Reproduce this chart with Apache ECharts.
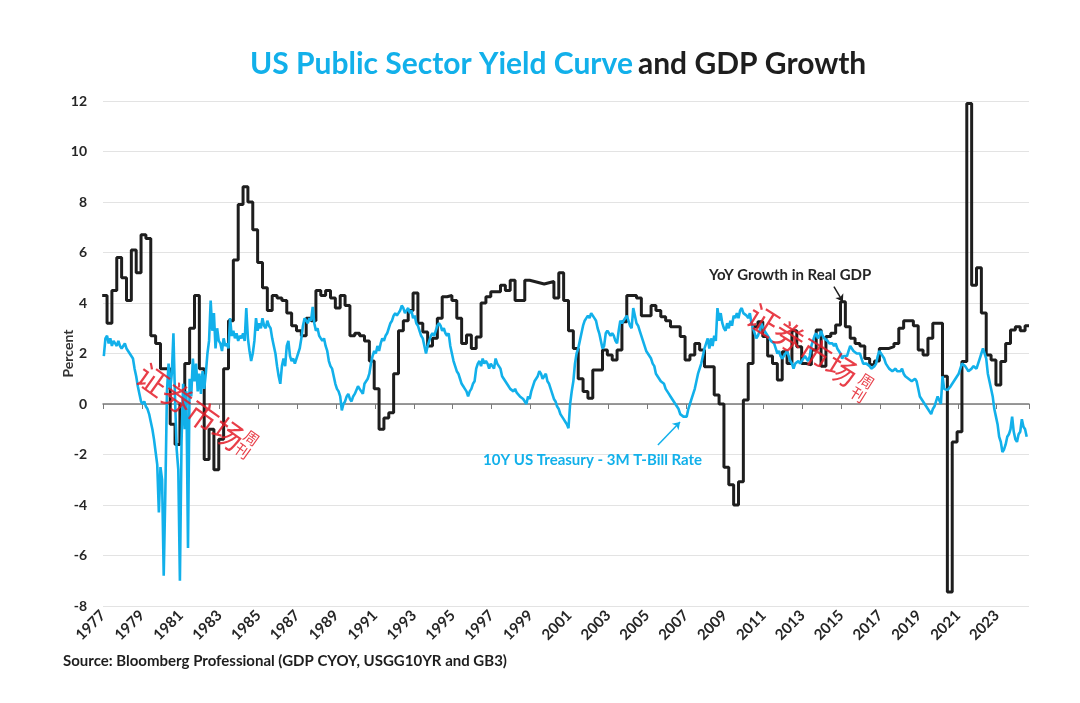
<!DOCTYPE html>
<html>
<head>
<meta charset="utf-8">
<script src="https://cdn.jsdelivr.net/npm/echarts@6/dist/echarts.min.js"></script>
<style>
html,body{margin:0;padding:0;background:#fff;}
#chart{width:1080px;height:703px;}
</style>
</head>
<body>
<div id="chart"></div>
<script>
// ---------------- DATA ----------------
const titleBlue = 'US Public Sector Yield Curve';
const titleDark = 'and GDP Growth';
const yAxisName = 'Percent';
const sourceText = 'Source: Bloomberg Professional (GDP CYOY, USGG10YR and GB3)';
const gdpLabel = 'YoY Growth in Real GDP';
const spreadLabel = '10Y US Treasury - 3M T-Bill Rate';

const xMinYear = 1977;
const xMaxYear = 2024.66;
const xTickStep = 2;
const yMin = -8, yMax = 12, yStep = 2;

// 10Y - 3M spread, monthly, starting Jan 1977 (one row per year)
const spreadStartYear = 1977;
const spreadMonthly = [
  1.9, 2.6, 2.7, 2.4, 2.6, 2.3, 2.5, 2.4, 2.3, 2.5, 2.3, 2.2,      // 1977
  2.3, 2.4, 2.2, 2.1, 2.0, 1.9, 1.8, 1.4, 1.1, 0.7, 0.4, 0.1,      // 1978
  0.0, 0.1, -0.1, -0.2, -0.4, -0.7, -1.0, -1.4, -1.9, -2.4, -4.3, -2.5, // 1979
  -3.0, -6.8, -3.5, 0.5, 1.6, 0.6, 1.2, 2.8, 0.2, -1.8, -2.6, -7.0, // 1980
  -1.5, 0.8, -1.0, 0.5, -5.7, 1.0, 0.3, 1.8, 0.9, 1.6, 0.5, 1.2,   // 1981
  0.4, 1.3, 0.6, 1.2, 2.0, 2.5, 4.1, 2.9, 3.6, 2.2, 3.0, 2.5,      // 1982
  2.4, 2.1, 2.6, 2.3, 2.4, 2.2, 3.4, 2.7, 2.9, 2.6, 2.8, 2.5,      // 1983
  2.7, 2.6, 2.8, 2.5, 3.8, 2.6, 2.1, 1.7, 2.0, 2.5, 3.4, 2.9,      // 1984
  3.2, 3.0, 3.4, 3.1, 3.0, 3.3, 3.1, 3.0, 2.6, 2.3, 2.0, 1.5,      // 1985
  1.1, 0.8, 1.5, 1.8, 1.5, 2.3, 2.5, 1.9, 1.7, 1.8, 1.6, 1.8,      // 1986
  2.0, 2.2, 2.6, 3.1, 3.4, 3.3, 3.2, 3.4, 3.3, 3.85, 3.2, 2.9,     // 1987
  3.0, 2.7, 2.6, 2.5, 2.6, 2.3, 2.1, 1.7, 1.5, 1.4, 1.1, 0.8,      // 1988
  0.6, 0.5, 0.3, -0.25, 0.0, 0.1, 0.3, 0.4, 0.2, 0.1, 0.3, 0.4,    // 1989
  0.4, 0.7, 0.6, 0.5, 0.4, 0.8, 0.9, 1.0, 1.2, 1.6, 1.9, 2.1,      // 1990
  2.0, 2.3, 2.1, 2.4, 2.6, 2.5, 2.7, 2.8, 3.0, 3.2, 3.3, 3.5,      // 1991
  3.6, 3.5, 3.6, 3.7, 3.9, 3.8, 3.6, 3.7, 3.8, 3.6, 3.7, 3.4,      // 1992
  3.5, 3.2, 3.1, 2.9, 2.7, 2.6, 2.3, 2.0, 2.3, 2.5, 2.7, 2.8,      // 1993
  2.7, 2.9, 3.1, 3.2, 3.1, 2.9, 3.0, 2.8, 2.7, 2.8, 2.3, 2.0,      // 1994
  1.7, 1.5, 1.3, 1.2, 1.0, 0.8, 0.7, 0.6, 0.5, 0.3, 0.5, 0.6,      // 1995
  0.8, 0.9, 1.4, 1.6, 1.7, 1.5, 1.8, 1.6, 1.7, 1.6, 1.4, 1.6,      // 1996
  1.5, 1.4, 1.8, 1.6, 1.5, 1.4, 1.1, 1.0, 0.9, 0.8, 0.7, 0.6,      // 1997
  0.6, 0.5, 0.6, 0.45, 0.5, 0.3, 0.35, 0.2, 0.1, 0.0, 0.3, 0.2,    // 1998
  0.5, 0.7, 0.9, 1.0, 1.1, 1.3, 1.2, 1.0, 1.1, 1.2, 0.9, 0.8,      // 1999
  0.6, 0.4, 0.2, 0.1, -0.1, -0.2, -0.4, -0.5, -0.6, -0.7, -0.8, -0.96, // 2000
  0.0, 0.5, 0.9, 1.6, 2.0, 2.2, 2.5, 2.8, 3.1, 3.3, 3.4, 3.5,      // 2001
  3.4, 3.6, 3.5, 3.4, 3.3, 3.0, 2.8, 2.5, 2.2, 2.3, 2.8, 2.9,      // 2002
  2.9, 2.7, 2.8, 2.7, 2.5, 2.4, 2.9, 3.3, 3.2, 3.3, 3.4, 3.5,      // 2003
  3.3, 3.1, 3.0, 3.8, 3.5, 3.2, 3.1, 2.9, 2.7, 2.5, 2.3, 2.1,      // 2004
  2.0, 1.9, 1.8, 1.6, 1.5, 1.2, 1.2, 1.0, 0.9, 0.9, 0.8, 0.6,      // 2005
  0.5, 0.4, 0.3, 0.3, 0.1, 0.0, -0.1, -0.2, -0.4, -0.4, -0.5, -0.45, // 2006
  -0.5, -0.2, 0.0, 0.2, 0.4, 0.6, 0.9, 1.2, 1.4, 1.6, 1.9, 2.2,    // 2007
  2.4, 2.6, 2.2, 2.6, 2.3, 2.7, 2.5, 3.8, 3.3, 3.6, 3.2, 3.0,      // 2008
  2.9, 3.2, 3.0, 3.3, 3.1, 3.5, 3.4, 3.6, 3.4, 3.7, 3.8, 3.6,      // 2009
  3.6, 3.5, 3.4, 3.6, 3.2, 3.0, 2.8, 2.6, 2.7, 2.9, 3.2, 3.2,      // 2010
  2.9, 2.8, 2.7, 2.6, 2.5, 2.5, 2.4, 2.2, 2.0, 2.1, 1.9, 1.8,      // 2011
  1.9, 1.9, 2.1, 1.9, 1.7, 1.6, 1.4, 1.6, 1.6, 1.7, 1.6, 1.7,      // 2012
  1.8, 1.9, 1.8, 1.7, 1.9, 2.3, 2.5, 2.7, 2.8, 2.6, 2.7, 2.9,      // 2013
  2.7, 2.6, 2.6, 2.5, 2.4, 2.4, 2.4, 2.3, 2.4, 2.2, 2.2, 2.0,      // 2014
  1.8, 1.9, 1.9, 1.9, 2.1, 2.3, 2.2, 2.1, 2.1, 2.0, 2.0, 2.0,      // 2015
  1.8, 1.6, 1.6, 1.6, 1.6, 1.5, 1.4, 1.4, 1.5, 1.6, 1.9, 2.1,      // 2016
  2.0, 1.9, 1.8, 1.6, 1.5, 1.4, 1.4, 1.3, 1.3, 1.4, 1.3, 1.3,      // 2017
  1.3, 1.4, 1.2, 1.1, 1.1, 1.0, 1.0, 0.9, 0.9, 1.0, 0.9, 0.6,      // 2018
  0.3, 0.3, 0.1, 0.0, -0.1, -0.2, -0.2, -0.4, -0.2, -0.1, 0.1, 0.3, // 2019
  0.3, 0.0, 1.1, 0.6, 0.6, 0.55, 0.6, 0.7, 0.8, 0.9, 1.0, 1.1,     // 2020
  1.2, 1.4, 1.6, 1.6, 1.5, 1.4, 1.3, 1.3, 1.4, 1.5, 1.5, 1.4,      // 2021
  1.6, 1.8, 2.0, 2.2, 2.26, 1.8, 1.2, 0.9, 0.6, 0.3, -0.2, -0.5,   // 2022
  -0.8, -1.3, -1.5, -1.9, -1.8, -1.6, -1.3, -1.2, -1.0, -0.5, -1.1, -1.4, // 2023
  -1.5, -1.2, -1.1, -0.6, -0.9, -1.0, -1.3                         // 2024
];

// Real GDP YoY growth, quarterly, starting 1976 Q4
const gdpStartYear = 1976, gdpStartQuarter = 4;
const gdpYoY = [
  4.3,                       // 1976 Q4
  3.2, 4.5, 5.8, 5.0,        // 1977
  4.1, 6.1, 5.2, 6.7,        // 1978
  6.55, 2.7, 2.4, 1.4,       // 1979
  1.4, -0.8, -1.6, 0.0,      // 1980
  1.6, 3.0, 4.3, 1.4,        // 1981
  -2.2, -1.0, -2.6, -1.4,    // 1982
  1.4, 3.3, 5.7, 7.9,        // 1983
  8.6, 8.0, 6.9, 5.6,        // 1984
  4.6, 3.7, 4.3, 4.2,        // 1985
  4.1, 3.6, 3.1, 2.9,        // 1986
  2.7, 3.4, 3.3, 4.5,        // 1987
  4.3, 4.5, 4.2, 3.8,        // 1988
  4.3, 3.9, 2.7, 2.8,        // 1989
  2.7, 2.5, 1.7, 0.6,        // 1990
  -1.0, -0.55, -0.35, 1.2,   // 1991
  2.9, 3.3, 3.7, 4.4,        // 1992
  3.2, 2.85, 2.3, 2.6,       // 1993
  3.4, 4.25, 4.3, 4.1,       // 1994
  3.4, 2.4, 2.73, 2.2,       // 1995
  2.65, 4.0, 4.25, 4.45,     // 1996
  4.45, 4.7, 4.5, 4.9,       // 1997
  4.1, 4.1, 4.9, 4.85,       // 1998
  4.8, 4.75, 4.8, 4.85,      // 1999
  4.2, 5.2, 4.1, 2.9,        // 2000
  2.2, 1.0, 0.5, 0.23,       // 2001
  1.35, 1.35, 2.14, 1.94,    // 2002
  1.74, 2.14, 3.26, 4.3,     // 2003
  4.3, 4.2, 3.5, 3.5,        // 2004
  3.9, 3.7, 3.46, 3.3,       // 2005
  3.06, 3.06, 2.67, 1.74,    // 2006
  1.94, 2.4, 2.14, 1.48,     // 2007
  1.48, 0.36, 0.0, -2.5,     // 2008
  -3.2, -4.0, -3.08, 0.16,   // 2009
  1.6, 3.06, 3.26, 2.67,     // 2010
  1.9, 1.6, 0.95, 2.07,      // 2011
  1.6, 2.9, 2.27, 1.6,       // 2012
  1.55, 2.14, 2.93, 1.5,     // 2013
  2.67, 2.8, 3.13, 4.05,     // 2014
  3.06, 2.6, 2.4, 2.3,       // 2015
  1.8, 1.55, 1.7, 2.2,       // 2016
  2.2, 2.27, 2.4, 3.0,       // 2017
  3.3, 3.3, 3.1, 2.14,       // 2018
  1.94, 2.6, 3.2, 3.2,       // 2019
  1.1, -7.45, -1.5, -1.1,    // 2020
  1.68, 11.9, 4.7, 5.4,      // 2021
  3.6, 1.94, 1.74, 0.75,     // 2022
  1.68, 2.4, 2.93, 3.06,     // 2023
  2.9, 3.1                   // 2024
];

// annotation anchor points (data space)
const gdpArrow = [[2014.62, 4.65], [2015.08, 4.05]];
const spreadArrow = [[2005.56, -1.62], [2006.70, -0.71]];

// ---------------- BUILD ----------------
const spreadData = spreadMonthly.map((v, i) => [spreadStartYear + (i + 0.5) / 12, v]);
const gdpData = gdpYoY.map((v, k) => {
  const qi = (gdpStartQuarter - 1) + k;
  const yr = gdpStartYear + Math.floor(qi / 4);
  const q = qi % 4;
  return [yr + (q * 3 + 2.5) / 12, v];
});
// last reading carried to the end of the plotted range
gdpData.push([xMaxYear, gdpYoY[gdpYoY.length - 1]]);

const BLUE = '#12b0ea';
const DARK = '#1e1e1e';
const FONT = 'Lato, "Open Sans", sans-serif';

const chart = echarts.init(document.getElementById('chart'), null, {renderer: 'canvas'});
chart.setOption({
  animation: false,
  backgroundColor: '#ffffff',
  title: {
    text: '{a|' + titleBlue + '} {b|' + titleDark + '}',
    left: 245, top: 44,
    textStyle: {
      rich: {
        a: {fontFamily: FONT, fontWeight: 'bold', fontSize: 30, color: BLUE},
        b: {fontFamily: FONT, fontWeight: 'bold', fontSize: 30, color: DARK}
      }
    }
  },
  grid: {left: 103, right: 51, top: 101, bottom: 97, containLabel: false},
  xAxis: [
    {
      type: 'value', min: xMinYear, max: xMaxYear, interval: xTickStep,
      position: 'bottom',
      axisLine: {show: false, onZero: false},
      axisTick: {show: false},
      splitLine: {show: false},
      axisLabel: {
        rotate: 45, margin: 7, showMaxLabel: false,
        fontFamily: FONT, fontWeight: 'bold', fontSize: 15, color: '#262626',
        formatter: v => String(Math.round(v))
      }
    },
    {
      type: 'value', min: xMinYear, max: xMaxYear, interval: xTickStep,
      position: 'bottom',
      axisLine: {show: true, onZero: true, lineStyle: {color: '#7a7a7a', width: 1.5}},
      axisTick: {show: true, length: 5, lineStyle: {color: '#7a7a7a', width: 1}},
      axisLabel: {show: false},
      splitLine: {show: false}
    }
  ],
  yAxis: {
    type: 'value', min: yMin, max: yMax, interval: yStep,
    name: yAxisName, nameLocation: 'middle', nameGap: 28, nameRotate: 90,
    nameMoveOverlap: false,
    nameTextStyle: {fontFamily: FONT, fontSize: 14, fontWeight: 'bold', color: '#333'},
    axisLine: {show: false}, axisTick: {show: false},
    axisLabel: {fontFamily: FONT, fontWeight: 'bold', fontSize: 14, color: '#262626', margin: 16},
    splitLine: {lineStyle: {color: '#e3e3e3', width: 1.2}}
  },
  series: [
    {
      name: 'GDP', type: 'line', xAxisIndex: 0, data: gdpData, step: 'end',
      showSymbol: false, symbol: 'none', z: 3,
      lineStyle: {color: DARK, width: 3},
      markLine: {
        silent: true, symbol: ['none', 'arrow'], symbolSize: 7, label: {show: false},
        lineStyle: {color: DARK, width: 1.5, type: 'solid'},
        data: [[{coord: gdpArrow[0]}, {coord: gdpArrow[1]}]]
      }
    },
    {
      name: 'Spread', type: 'line', xAxisIndex: 0, data: spreadData,
      showSymbol: false, symbol: 'none', z: 4,
      lineStyle: {color: BLUE, width: 2.6},
      markLine: {
        silent: true, symbol: ['none', 'arrow'], symbolSize: 7, label: {show: false},
        lineStyle: {color: BLUE, width: 1.5, type: 'solid'},
        data: [[{coord: spreadArrow[0]}, {coord: spreadArrow[1]}]]
      }
    }
  ],
  graphic: [
    {type: 'text', left: 709, top: 268, z: 10,
     style: {text: gdpLabel, font: 'bold 15px ' + FONT, fill: '#262626'}},
    {type: 'text', left: 483, top: 453, z: 10,
     style: {text: spreadLabel, font: 'bold 15px ' + FONT, fill: BLUE}},
    {type: 'text', left: 63, top: 654, z: 10,
     style: {text: sourceText, font: 'bold 15px ' + FONT, fill: '#1e1e1e'}},
    // publisher watermarks
    {type: 'text', x: 140, y: 371, rotation: -0.62, z: 20,
     style: {text: '证券市场', font: '31px "Noto Sans CJK SC"', fill: 'rgba(228,28,40,0.85)', textVerticalAlign: 'middle'}},
    {type: 'text', x: 241, y: 440, rotation: -0.62, z: 20,
     style: {text: '周\n刊', font: '15px "Noto Sans CJK SC"', fill: 'rgba(228,28,40,0.85)', textVerticalAlign: 'middle', lineHeight: 16}},
    {type: 'text', x: 750, y: 312, rotation: -0.56, z: 20,
     style: {text: '证券市场', font: '31px "Noto Sans CJK SC"', fill: 'rgba(228,28,40,0.85)', textVerticalAlign: 'middle'}},
    {type: 'text', x: 856, y: 384, rotation: -0.56, z: 20,
     style: {text: '周\n刊', font: '15px "Noto Sans CJK SC"', fill: 'rgba(228,28,40,0.85)', textVerticalAlign: 'middle', lineHeight: 16}}
  ]
});
</script>
</body>
</html>
